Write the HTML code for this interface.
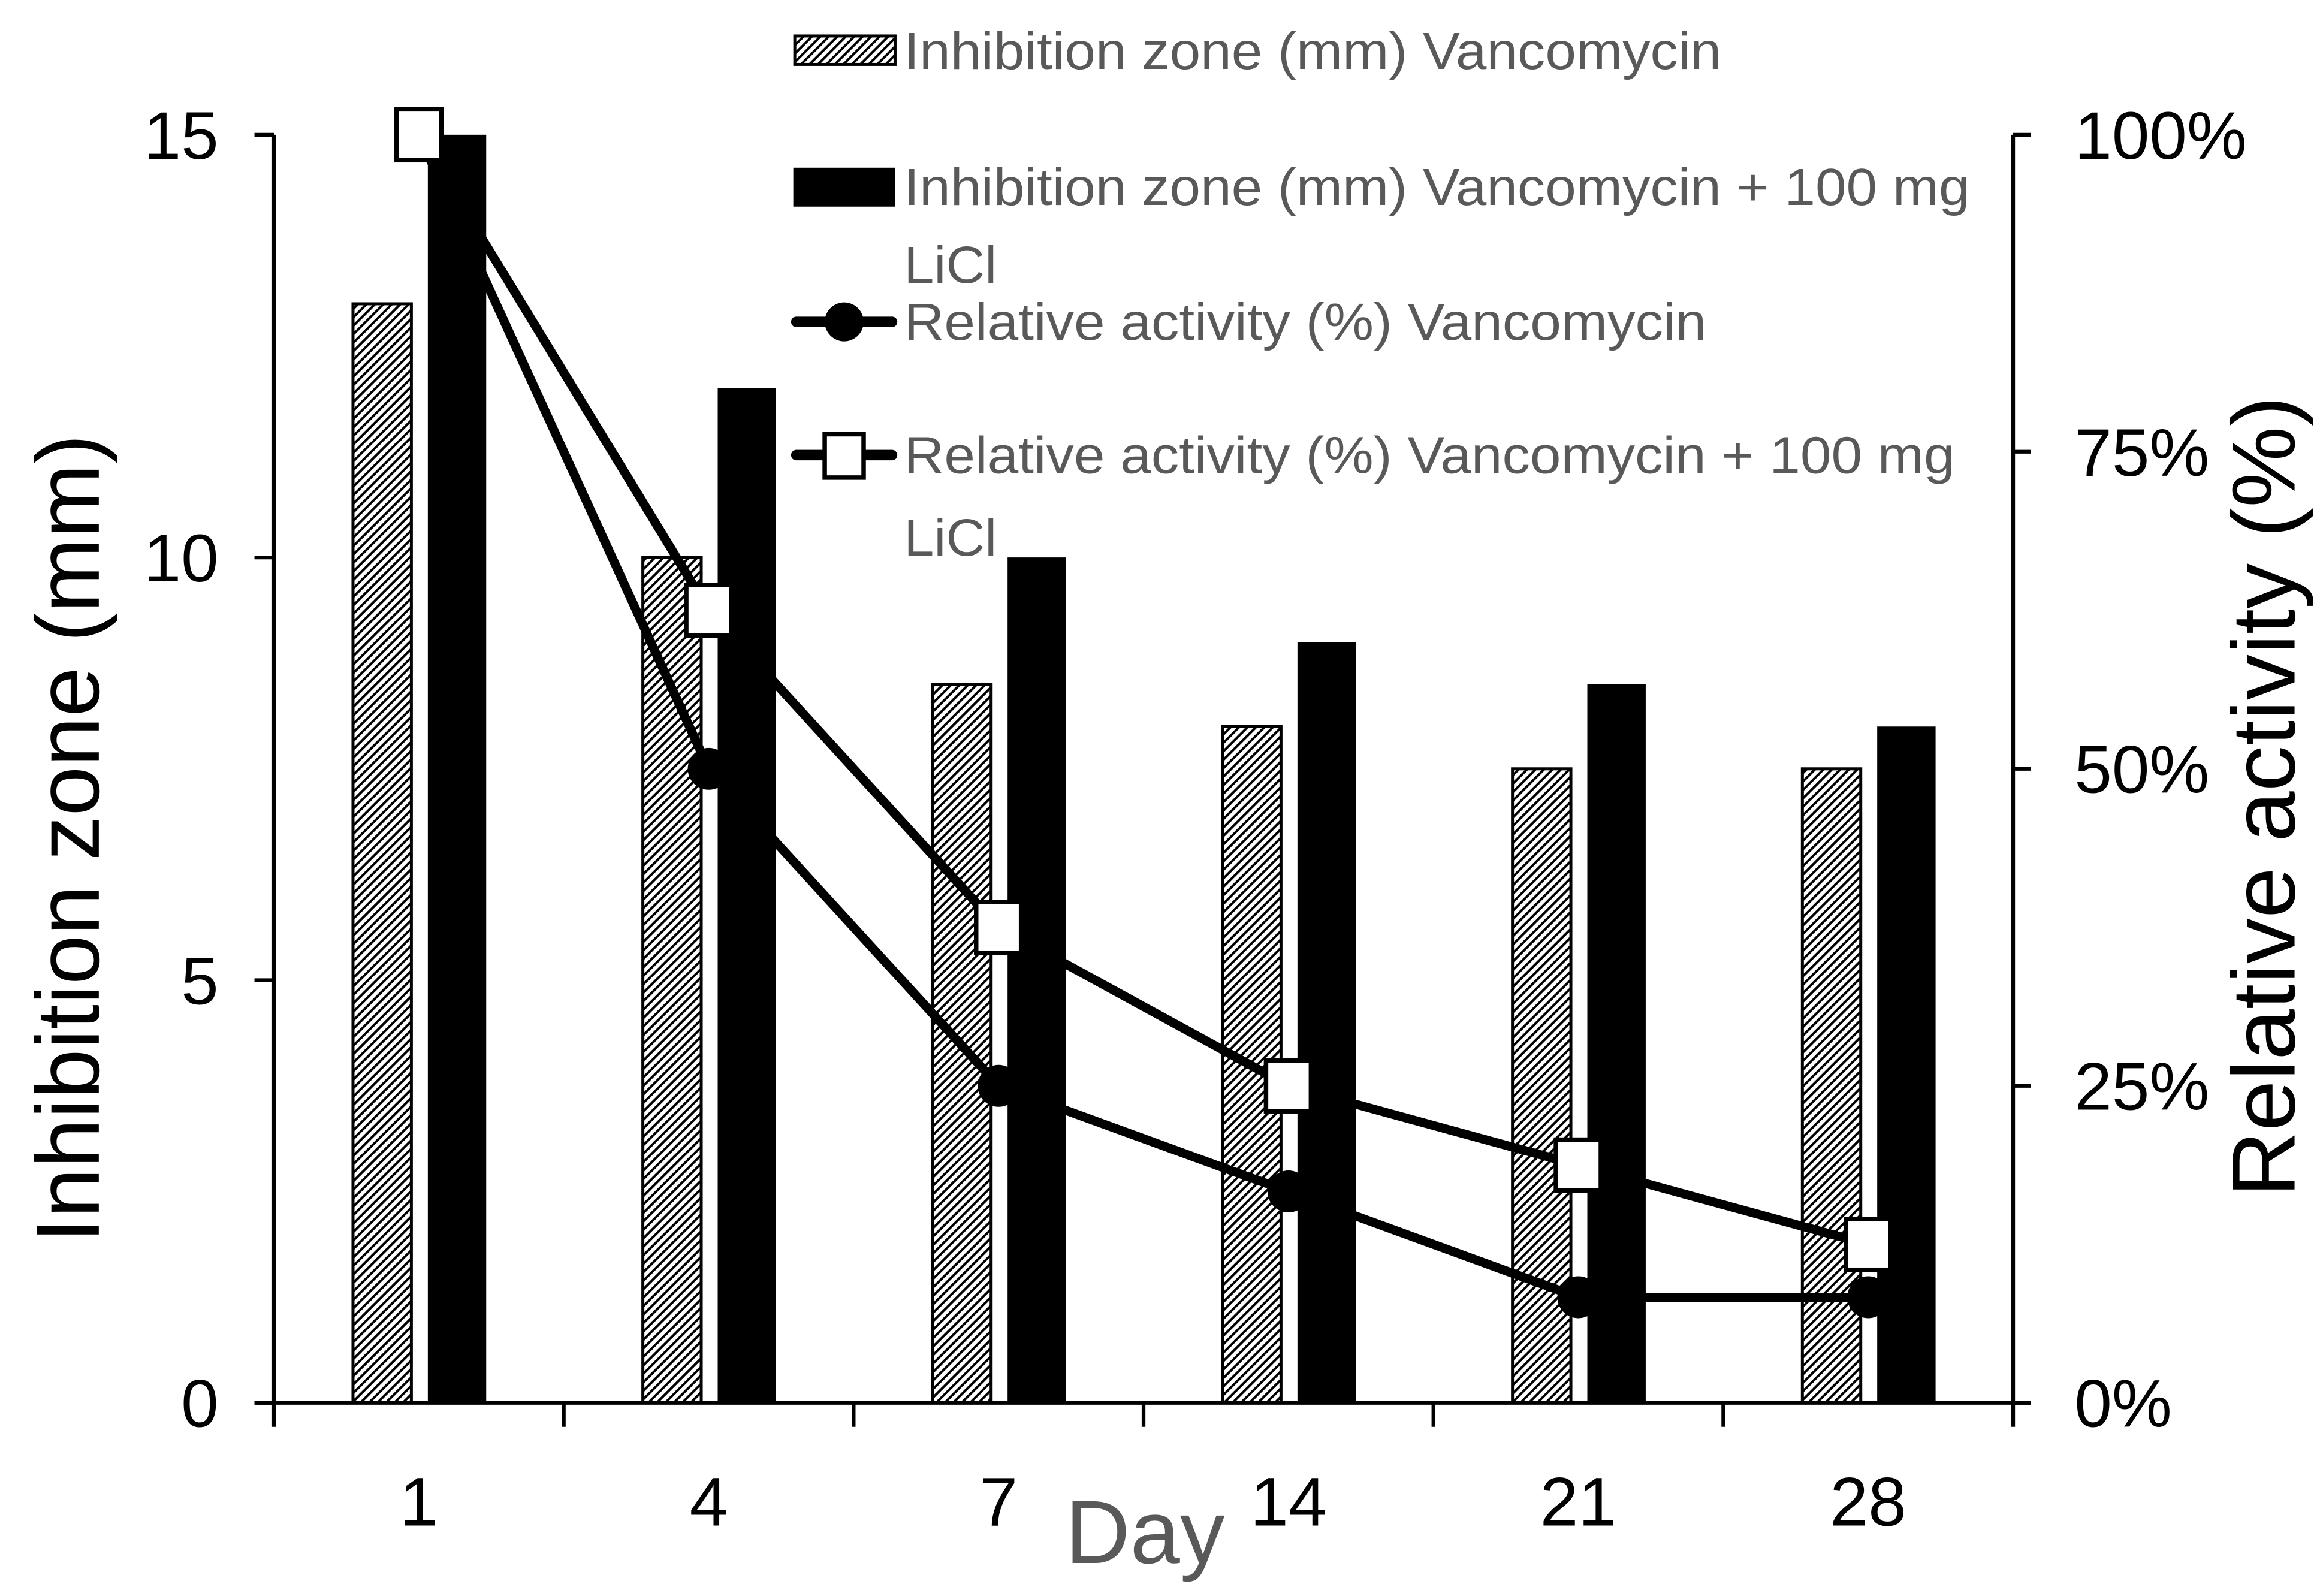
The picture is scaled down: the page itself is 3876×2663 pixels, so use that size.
<!DOCTYPE html>
<html><head><meta charset="utf-8"><style>
html,body{margin:0;padding:0;background:#fff;}
svg{display:block;font-family:"Liberation Sans",sans-serif;}
</style></head><body>
<svg id="chart" width="3876" height="2663" viewBox="0 0 1552 1066" preserveAspectRatio="none" xmlns="http://www.w3.org/2000/svg">
<defs>
<pattern id="hatch" patternUnits="userSpaceOnUse" width="4" height="4" patternTransform="rotate(45)">
<rect width="4" height="4" fill="#fff"/><rect width="1.6" height="4" fill="#000"/>
</pattern>
</defs>
<g id="plot"></g>
<g font-size="35" fill="#595959">
<rect x="531" y="24" width="67" height="19" fill="url(#hatch)" stroke="#000" stroke-width="2"/>
<text x="604" y="46" textLength="546" lengthAdjust="spacingAndGlyphs">Inhibition zone (mm) Vancomycin</text>
<rect x="530" y="112" width="68" height="26" fill="#000"/>
<text x="604" y="137" textLength="712" lengthAdjust="spacingAndGlyphs">Inhibition zone (mm) Vancomycin + 100 mg</text>
<text x="604" y="189" textLength="62" lengthAdjust="spacingAndGlyphs">LiCl</text>
<line x1="532" y1="215" x2="596" y2="215" stroke="#000" stroke-width="7" stroke-linecap="round"/>
<circle cx="564" cy="215" r="13" fill="#000"/>
<text x="604" y="227" textLength="536" lengthAdjust="spacingAndGlyphs">Relative activity (%) Vancomycin</text>
<line x1="532" y1="304" x2="596" y2="304" stroke="#000" stroke-width="7" stroke-linecap="round"/>
<rect x="551" y="290" width="26" height="29" fill="#fff" stroke="#000" stroke-width="3"/>
<text x="604" y="316" textLength="702" lengthAdjust="spacingAndGlyphs">Relative activity (%) Vancomycin + 100 mg</text>
<text x="604" y="371" textLength="62" lengthAdjust="spacingAndGlyphs">LiCl</text>
</g>
<text transform="translate(66,560) rotate(-90)" text-anchor="middle" font-size="60" fill="#000" textLength="540" lengthAdjust="spacingAndGlyphs">Inhibition zone (mm)</text>
<text transform="translate(1533,532) rotate(-90)" text-anchor="middle" font-size="60" fill="#000" textLength="535" lengthAdjust="spacingAndGlyphs">Relative activity (%)</text>
<text x="765" y="1044" text-anchor="middle" font-size="60" fill="#595959">Day</text>
</svg>
<script>
const categories = ["1","4","7","14","21","28"];
const zoneVanco = [13,10,8.5,8,7.5,7.5];
const zoneLiCl = [15,12,10,9,8.5,8];
const relVanco = [100,50,25,16.67,8.33,8.33];
const relLiCl = [100,62.5,37.5,25,18.75,12.5];
const leftTicks = [0,5,10,15];
const rightTicks = [0,25,50,75,100];

const NS="http://www.w3.org/2000/svg";
const g=document.getElementById('plot');
const X0=183,X1=1345,Y0=937,Y1=90;
const bw=(X1-X0)/categories.length;
const cx=i=>X0+bw*(i+0.5);
const yL=v=>Y0-(v/15)*(Y0-Y1);
const yR=v=>Y0-(v/100)*(Y0-Y1);
function mk(tag,attrs){const e=document.createElementNS(NS,tag);for(const k in attrs)e.setAttribute(k,attrs[k]);g.appendChild(e);return e;}

zoneVanco.forEach((v,i)=>{
  const r=mk('rect',{x:cx(i)-44,y:yL(v),width:39,height:Y0-yL(v),fill:'url(#hatch)',stroke:'#000','stroke-width':2});
  
  
});
zoneLiCl.forEach((v,i)=>{
  const r=mk('rect',{x:cx(i)+6,y:yL(v),width:39,height:Y0-yL(v),fill:'#000'});
  
  
});
let a=mk('line',{x1:X0,y1:Y1,x2:X0,y2:Y0,stroke:'#000','stroke-width':2.5});


a=mk('line',{x1:X1,y1:Y1,x2:X1,y2:Y0,stroke:'#000','stroke-width':2.5});


a=mk('line',{x1:X0-13,y1:Y0,x2:X1+12,y2:Y0,stroke:'#000','stroke-width':2.5});


for(let i=0;i<=categories.length;i++){mk('line',{x1:X0+bw*i,y1:Y0,x2:X0+bw*i,y2:Y0+16,stroke:'#000','stroke-width':2.5});}
leftTicks.forEach(v=>{
  mk('line',{x1:X0-13,y1:yL(v),x2:X0,y2:yL(v),stroke:'#000','stroke-width':2.5});
  const t=mk('text',{x:146,y:yL(v)+16,'text-anchor':'end','font-size':45});
  t.textContent=v;
  
  
});
rightTicks.forEach(v=>{
  mk('line',{x1:X1,y1:yR(v),x2:X1+12,y2:yR(v),stroke:'#000','stroke-width':2.5});
  const t=mk('text',{x:1386,y:yR(v)+16,'font-size':45});
  t.textContent=v+'%';
  
  
});
categories.forEach((c,i)=>{
  const t=mk('text',{x:cx(i),y:1019,'text-anchor':'middle','font-size':46});
  t.textContent=c;
  
  
});
let l=mk('polyline',{points:relVanco.map((v,i)=>cx(i)+','+yR(v)).join(' '),fill:'none',stroke:'#000','stroke-width':6,'stroke-linejoin':'round'});


l=mk('polyline',{points:relLiCl.map((v,i)=>cx(i)+','+yR(v)).join(' '),fill:'none',stroke:'#000','stroke-width':6,'stroke-linejoin':'round'});


relVanco.forEach((v,i)=>{
  const c=mk('circle',{cx:cx(i),cy:yR(v),r:14,fill:'#000'});
  
  
});
relLiCl.forEach((v,i)=>{
  const s=mk('rect',{x:cx(i)-15,y:yR(v)-17,width:30,height:34,fill:'#fff',stroke:'#000','stroke-width':3});
  
  
});
</script>
</body></html>
